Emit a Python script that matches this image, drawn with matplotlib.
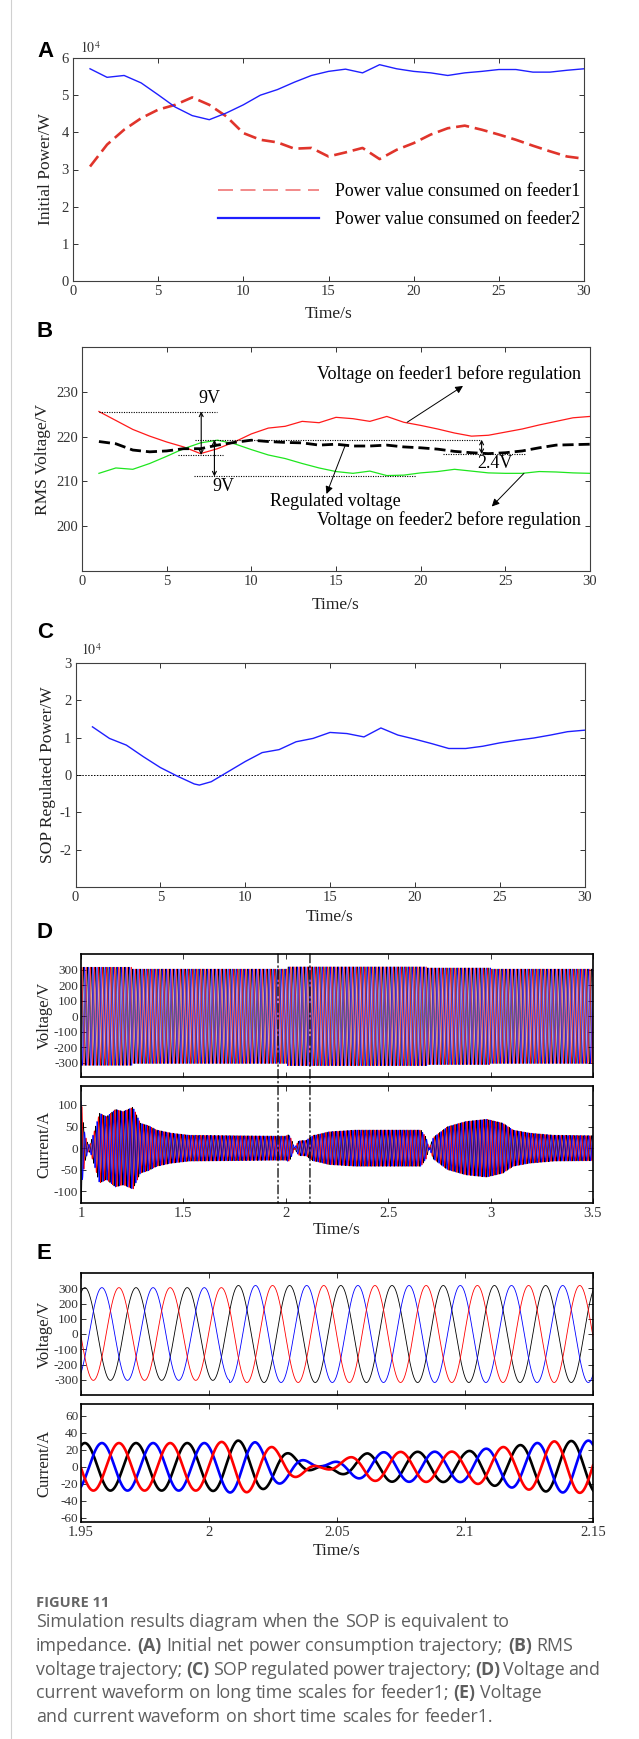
"""
Figure 11 replica: SOP equivalent to impedance.
(A) initial net power, (B) RMS voltage, (C) SOP regulated power,
(D) long time-scale waveforms, (E) short time-scale waveforms.
"""

from pathlib import Path
import numpy as np
import matplotlib
matplotlib.use("Agg")
import matplotlib.pyplot as plt
from matplotlib.lines import Line2D
from matplotlib.patches import ConnectionPatch


OUT_FILE = Path("out.png")
FIG_W, FIG_H, DPI = 639, 1739, 100

# -----------------------------
# Panel A: initial power (x 1e4 W)
# -----------------------------
A_TIME = list(range(1, 31))
A_FEEDER1 = [3.08, 3.67, 4.07, 4.38, 4.61, 4.74, 4.94, 4.74, 4.43, 3.98,
             3.80, 3.73, 3.56, 3.58, 3.35, 3.46, 3.58, 3.28, 3.53, 3.71,
             3.94, 4.11, 4.18, 4.07, 3.94, 3.80, 3.64, 3.49, 3.35, 3.29]
A_FEEDER2 = [5.71, 5.48, 5.53, 5.33, 5.01, 4.68, 4.45, 4.34, 4.52, 4.74,
             5.00, 5.15, 5.35, 5.53, 5.64, 5.70, 5.60, 5.82, 5.71, 5.64,
             5.60, 5.53, 5.60, 5.64, 5.69, 5.69, 5.62, 5.62, 5.67, 5.71]

# -----------------------------
# Panel B: RMS voltage (V)
# -----------------------------
B_TIME = list(range(1, 31))
B_FEEDER1 = [225.6, 223.6, 221.6, 220.1, 218.8, 217.7, 216.2, 217.3, 218.8, 220.6,
             221.9, 222.3, 223.4, 223.1, 224.3, 224.0, 223.4, 224.5, 223.2, 222.5,
             221.7, 220.8, 220.1, 220.3, 221.0, 221.7, 222.6, 223.4, 224.2, 224.5]
B_FEEDER2 = [211.8, 213.0, 212.7, 214.0, 215.6, 217.3, 218.6, 219.2, 218.4, 217.1,
             215.9, 215.1, 214.0, 213.0, 212.2, 211.8, 212.3, 211.3, 211.4, 211.9,
             212.2, 212.7, 212.3, 211.9, 211.8, 211.8, 212.2, 212.1, 211.9, 211.8]
B_REGULATED = [218.9, 218.4, 217.0, 216.6, 216.8, 217.3, 217.3, 218.1, 218.7, 219.2,
               218.9, 218.7, 218.6, 218.1, 218.3, 217.9, 217.9, 218.1, 217.7, 217.5,
               217.2, 216.7, 216.4, 216.2, 216.4, 216.8, 217.5, 218.1, 218.2, 218.3]

# dotted reference levels: level, start, end
B_REF_LEVEL = [225.6, 215.9, 219.3, 211.1, 216.2]
B_REF_START = [1.0, 5.66, 6.7, 6.6, 21.3]
B_REF_END = [8.0, 8.3, 23.5, 19.7, 26.2]

# double-headed span arrows: x, low, high, label, label x, label y
B_SPAN_X = [7.04, 7.82, 23.6]
B_SPAN_LOW = [215.9, 211.1, 216.1]
B_SPAN_HIGH = [225.6, 219.3, 219.3]
B_SPAN_TEXT = ["9V", "9V", "2.4V"]
B_SPAN_TEXT_X = [7.5, 8.33, 24.4]
B_SPAN_TEXT_Y = [228.4, 208.9, 214.0]

# callouts: text, text pos, arrow tail (on curve), arrow head
B_NOTE_TEXT = ["Voltage on feeder1 before regulation", "Regulated voltage",
               "Voltage on feeder2 before regulation"]
B_NOTE_X = [13.85, 11.1, 13.85]
B_NOTE_Y = [233.9, 205.5, 201.3]
B_ARROW_FROM = [(19.2, 223.2), (15.56, 218.2), (26.1, 211.8)]
B_ARROW_TO = [(22.5, 231.3), (14.44, 207.2), (24.2, 204.4)]

# -----------------------------
# Panel C: SOP regulated power (x 1e4 W)
# -----------------------------
C_TIME = [1, 2, 3, 4, 5, 6, 7, 7.3, 8, 9, 10, 11, 12, 13, 14, 15, 16, 17, 18, 19,
          20, 21, 22, 23, 24, 25, 26, 27, 28, 29, 30]
C_POWER = [1.29, 0.98, 0.80, 0.49, 0.20, -0.03, -0.24, -0.27, -0.18, 0.09,
           0.36, 0.60, 0.68, 0.89, 0.98, 1.14, 1.11, 1.02, 1.26, 1.07,
           0.96, 0.84, 0.71, 0.71, 0.77, 0.86, 0.93, 0.99, 1.07, 1.16, 1.20]

# -----------------------------
# Panels D/E: three-phase waveforms of feeder1
# -----------------------------
GRID_HZ = 50.0
PHASE_PEAK_T = 1.9515          # time of a peak of the black phase
PHASE_COLORS = ["black", "blue", "red"]   # lag 0, 120, 240 deg

# voltage peak amplitude, piecewise constant between step times
V_STEP_T = [1.0, 1.25, 2.008, 2.69, 3.0, 3.5]
V_STEP_AMP = [316, 304, 318, 311, 304]

# current peak amplitude (signed: sign flip = power reversal)
I_ENV_T = [1.000, 1.008, 1.020, 1.035, 1.045, 1.065, 1.090, 1.125, 1.168, 1.206,
           1.254, 1.290, 1.330, 1.370, 1.440, 1.530, 1.950, 2.000, 2.011, 2.018,
           2.025, 2.032, 2.038, 2.043, 2.050, 2.056, 2.062, 2.070, 2.100, 2.107,
           2.114, 2.120, 2.128, 2.135, 2.150, 2.210, 2.340, 2.660, 2.685, 2.700,
           2.720, 2.790, 2.880, 2.980, 3.060, 3.110, 3.190, 3.310, 3.500]
I_ENV_A = [130, 70, 30, 8, 10, 40, 81, 73, 90, 85,
           95, 58, 52, 42, 35, 30, 28, 28, 31, 29,
           23, 15, 7, 0, -7, -12, -16, -17.5, -18, -21,
           -23, -25, -28, -30, -31, -38, -42, -42, -25, 0,
           25, 50, 62, 67, 58, 42, 35, 30, 29]

D_MARK_T = [1.962, 2.118]      # dash-dot markers of the zoom window

CAPTION_TITLE = "FIGURE 11"
CAPTION_LINES = [
    "Simulation results diagram when the SOP is equivalent to",
    "impedance. (A) Initial net power consumption trajectory; (B) RMS",
    "voltage trajectory; (C) SOP regulated power trajectory; (D) Voltage and",
    "current waveform on long time scales for feeder1; (E) Voltage",
    "and current waveform on short time scales for feeder1.",
]
BOLD_WORDS = {"(A)", "(B)", "(C)", "(D)", "(E)"}


def px_rect(left, top, right, bottom):
    """Pixel box (from top-left) -> figure fraction rect."""
    return [left / FIG_W, 1 - bottom / FIG_H, (right - left) / FIG_W, (bottom - top) / FIG_H]


def style_axes(ax, spine_color="#404040", spine_lw=0.8, labelsize=10.5):
    for s in ax.spines.values():
        s.set_color(spine_color)
        s.set_linewidth(spine_lw)
    ax.tick_params(direction="in", top=True, right=True, length=3.5, width=0.7,
                   labelsize=labelsize, pad=3, colors="#333333")


def set_labels(ax, ylabel, ycoord, xlabel=None, xcoord=None, **kw):
    """Axis labels centred on the positions measured in the original."""
    ax.set_ylabel(ylabel, **kw)
    ax.yaxis.label.set_va("center")
    ax.yaxis.set_label_coords(ycoord, 0.5)
    if xlabel:
        ax.set_xlabel(xlabel, **kw)
        ax.xaxis.label.set_va("center")
        ax.xaxis.set_label_coords(0.5, xcoord)


def three_phase(t, amp):
    w = 2 * np.pi * GRID_HZ * (t - PHASE_PEAK_T)
    return [amp * np.cos(w - k * 2 * np.pi / 3) for k in range(3)]


def voltage_amp(t):
    idx = np.clip(np.searchsorted(V_STEP_T, t, side="right") - 1, 0, len(V_STEP_AMP) - 1)
    return np.asarray(V_STEP_AMP, dtype=float)[idx]


def draw_caption(fig):
    r = fig.canvas.get_renderer()
    fam = ["Open Sans", "DejaVu Sans"]
    color = "#5e5e5e"
    x0 = 36

    fig.text(x0 / FIG_W, 1 - 1607 / FIG_H, CAPTION_TITLE, family=fam, weight="bold",
             fontsize=10.5, color="#666666", va="baseline")

    # font size fitted so that line 1 spans the same width as the original
    probe = fig.text(0, 0, CAPTION_LINES[0], family=fam, fontsize=10)
    size = 10 * 475 / probe.get_window_extent(r).width
    probe.remove()

    baselines = [1627, 1651, 1675, 1698, 1722]
    max_right = 600
    for line, yb in zip(CAPTION_LINES, baselines):
        words = line.split(" ")
        arts = [fig.text(0, 1 - yb / FIG_H, w, family=fam, fontsize=size, color=color,
                         weight="bold" if w.rstrip(";") in BOLD_WORDS else "normal",
                         va="baseline") for w in words]
        widths = [a.get_window_extent(r).width for a in arts]
        sp = fig.text(0, 0, "a a", family=fam, fontsize=size)
        sp2 = fig.text(0, 0, "aa", family=fam, fontsize=size)
        space = sp.get_window_extent(r).width - sp2.get_window_extent(r).width
        sp.remove(); sp2.remove()
        n_sp = len(words) - 1
        natural = sum(widths) + n_sp * space
        if x0 + natural > max_right and n_sp:
            space = (max_right - x0 - sum(widths)) / n_sp
        x = x0
        for a, w in zip(arts, widths):
            a.set_x(x / FIG_W)
            x += w + space


def main() -> None:
    plt.rcParams["font.family"] = ["Liberation Serif", "DejaVu Serif"]
    plt.rcParams["mathtext.fontset"] = "stix"
    plt.rcParams["axes.unicode_minus"] = False

    fig = plt.figure(figsize=(FIG_W / DPI, FIG_H / DPI), dpi=DPI)
    letter_kw = dict(family=["Liberation Sans", "DejaVu Sans"], weight="bold",
                     fontsize=16, va="baseline")
    lab_kw = dict(fontsize=12.5, color="#222222")
    wave_lab_kw = dict(fontsize=12, color="#222222")
    note_size = 13

    # --- A ---
    ax = fig.add_axes(px_rect(73, 58, 584, 281))
    style_axes(ax)
    ax.plot(A_TIME, A_FEEDER1, color="#e0342b", lw=1.9, ls=(0, (5, 2.2)))
    ax.plot(A_TIME, A_FEEDER2, color="#1f1fff", lw=1.0)
    ax.set_xlim(0, 30)
    ax.set_ylim(0, 6)
    ax.set_xticks(range(0, 31, 5))
    ax.set_yticks(range(0, 7))
    set_labels(ax, "Initial Power/W", -0.053, "Time/s", -0.148, **lab_kw)
    handles = [Line2D([], [], color="#f07575", lw=1.2, ls=(0, (9, 4.5))),
               Line2D([], [], color="#1f1fff", lw=1.6)]
    ax.legend(handles, ["Power value consumed on feeder1", "Power value consumed on feeder2"],
              loc="upper left", bbox_to_anchor=(0.283, 0.44), frameon=False, fontsize=12.8,
              handlelength=5.7, handletextpad=0.9, labelspacing=0.65, borderpad=0,
              borderaxespad=0)
    fig.text(80 / FIG_W, 1 - 53 / FIG_H, r"$10^{4}$", fontsize=10, color="#333333", va="baseline")
    fig.text(37 / FIG_W, 1 - 57 / FIG_H, "A", **letter_kw)

    # --- B ---
    ax = fig.add_axes(px_rect(82, 347, 590, 571))
    style_axes(ax)
    ax.plot(B_TIME, B_FEEDER1, color="#ff1a1a", lw=0.9)
    ax.plot(B_TIME, B_FEEDER2, color="#1ee61e", lw=0.9)
    ax.plot(B_TIME, B_REGULATED, color="black", lw=2.0, ls=(0, (4, 1.8)))
    ax.hlines(B_REF_LEVEL, B_REF_START, B_REF_END, colors="black", linestyles=(0, (1, 1.2)),
              lw=0.8)
    for x, lo, hi in zip(B_SPAN_X, B_SPAN_LOW, B_SPAN_HIGH):
        ax.annotate("", xy=(x, hi), xytext=(x, lo),
                    arrowprops=dict(arrowstyle="<->", color="black", lw=0.8,
                                    shrinkA=0, shrinkB=0, mutation_scale=7))
    for s, x, y in zip(B_SPAN_TEXT, B_SPAN_TEXT_X, B_SPAN_TEXT_Y):
        ax.text(x, y, s, fontsize=note_size, ha="center", va="center")
    for s, x, y, p0, p1 in zip(B_NOTE_TEXT, B_NOTE_X, B_NOTE_Y, B_ARROW_FROM, B_ARROW_TO):
        ax.text(x, y, s, fontsize=note_size, ha="left", va="center")
        ax.annotate("", xy=p1, xytext=p0,
                    arrowprops=dict(arrowstyle="-|>", color="black", lw=0.7,
                                    shrinkA=0, shrinkB=0, mutation_scale=11))
    ax.set_xlim(0, 30)
    ax.set_ylim(190, 240)
    ax.set_xticks(range(0, 31, 5))
    ax.set_yticks([200, 210, 220, 230])
    set_labels(ax, "RMS Voltage/V", -0.076, "Time/s", -0.152, **lab_kw)
    fig.text(37 / FIG_W, 1 - 337 / FIG_H, "B", **letter_kw)

    # --- C ---
    ax = fig.add_axes(px_rect(75.5, 663, 584.5, 887))
    style_axes(ax)
    ax.axhline(0, color="black", lw=0.7, ls=(0, (1.5, 1.5)))
    ax.plot(C_TIME, C_POWER, color="#1f1fff", lw=1.0)
    ax.set_xlim(0, 30)
    ax.set_ylim(-3, 3)
    ax.set_xticks(range(0, 31, 5))
    ax.set_yticks([-2, -1, 0, 1, 2, 3])
    set_labels(ax, "SOP Regulated Power/W", -0.055, "Time/s", -0.134, **lab_kw)
    fig.text(81 / FIG_W, 1 - 655 / FIG_H, r"$10^{4}$", fontsize=10, color="#333333",
             family=["DejaVu Sans"], va="baseline")
    fig.text(37 / FIG_W, 1 - 638 / FIG_H, "C", **letter_kw)

    # --- D ---
    td = np.linspace(1.0, 3.5, 30001)
    ax_v = fig.add_axes(px_rect(81, 954, 593, 1077))
    ax_i = fig.add_axes(px_rect(81, 1086, 593, 1203))
    for k in (0, 2, 1):
        ax_v.plot(td, three_phase(td, voltage_amp(td))[k], color=PHASE_COLORS[k], lw=0.4)
        ax_i.plot(td, three_phase(td, np.interp(td, I_ENV_T, I_ENV_A))[k],
                  color=PHASE_COLORS[k], lw=0.6)
    for a in (ax_v, ax_i):
        style_axes(a, spine_color="black", spine_lw=1.2, labelsize=9.5)
        a.tick_params(axis="y", pad=2)
        a.set_xlim(1.0, 3.5)
        a.set_xticks([1, 1.5, 2, 2.5, 3, 3.5])
    ax_v.set_ylim(-390, 400)
    ax_v.set_yticks(range(-300, 301, 100))
    ax_v.tick_params(labelbottom=False)
    ax_i.set_ylim(-127, 144)
    ax_i.set_yticks([-100, -50, 0, 50, 100])
    ax_i.set_xticklabels(["1", "1.5", "2", "2.5", "3", "3.5"])
    ax_i.tick_params(axis="x", labelsize=10.5)
    set_labels(ax_v, "Voltage/V", -0.071, **wave_lab_kw)
    set_labels(ax_i, "Current/A", -0.071, "Time/s", -0.23, **wave_lab_kw)
    ax_i.xaxis.label.set_fontsize(12.5)
    for x in D_MARK_T:
        con = ConnectionPatch(xyA=(x, ax_v.get_ylim()[1]), coordsA=ax_v.transData,
                              xyB=(x, ax_i.get_ylim()[0]), coordsB=ax_i.transData,
                              color="black", lw=0.9, ls=(0, (7, 2.5, 1.2, 2.5)))
        fig.add_artist(con)
    fig.text(37 / FIG_W, 1 - 938 / FIG_H, "D", **letter_kw)

    # --- E ---
    te = np.linspace(1.95, 2.15, 6001)
    ax_v = fig.add_axes(px_rect(81, 1273, 593, 1395))
    ax_i = fig.add_axes(px_rect(81, 1404, 593, 1522))
    v_e = three_phase(te, voltage_amp(te))
    i_e = three_phase(te, np.interp(te, I_ENV_T, I_ENV_A))
    for k in range(3):
        ax_v.plot(te, v_e[k], color=PHASE_COLORS[k], lw=0.6)
        ax_i.plot(te, i_e[k], color=PHASE_COLORS[k], lw=1.9)
    for a in (ax_v, ax_i):
        style_axes(a, spine_color="black", spine_lw=1.2, labelsize=9.5)
        a.tick_params(axis="y", pad=2)
        a.set_xlim(1.95, 2.15)
        a.set_xticks([1.95, 2.0, 2.05, 2.1, 2.15])
    ax_v.set_ylim(-400, 400)
    ax_v.set_yticks(range(-300, 301, 100))
    ax_v.tick_params(labelbottom=False)
    ax_i.set_ylim(-65, 74)
    ax_i.set_yticks(range(-60, 61, 20))
    ax_i.set_xticklabels(["1.95", "2", "2.05", "2.1", "2.15"])
    ax_i.tick_params(axis="x", labelsize=10.5)
    set_labels(ax_v, "Voltage/V", -0.071, **wave_lab_kw)
    set_labels(ax_i, "Current/A", -0.071, "Time/s", -0.245, **wave_lab_kw)
    ax_i.xaxis.label.set_fontsize(12.5)
    fig.text(37 / FIG_W, 1 - 1259 / FIG_H, "E", **letter_kw)

    # page border line on the left, as in the source page
    fig.add_artist(Line2D([11 / FIG_W, 11 / FIG_W], [0, 1], color="#d0d0d0", lw=0.8))

    draw_caption(fig)

    fig.savefig(OUT_FILE, dpi=DPI)
    plt.close(fig)


if __name__ == "__main__":
    main()
